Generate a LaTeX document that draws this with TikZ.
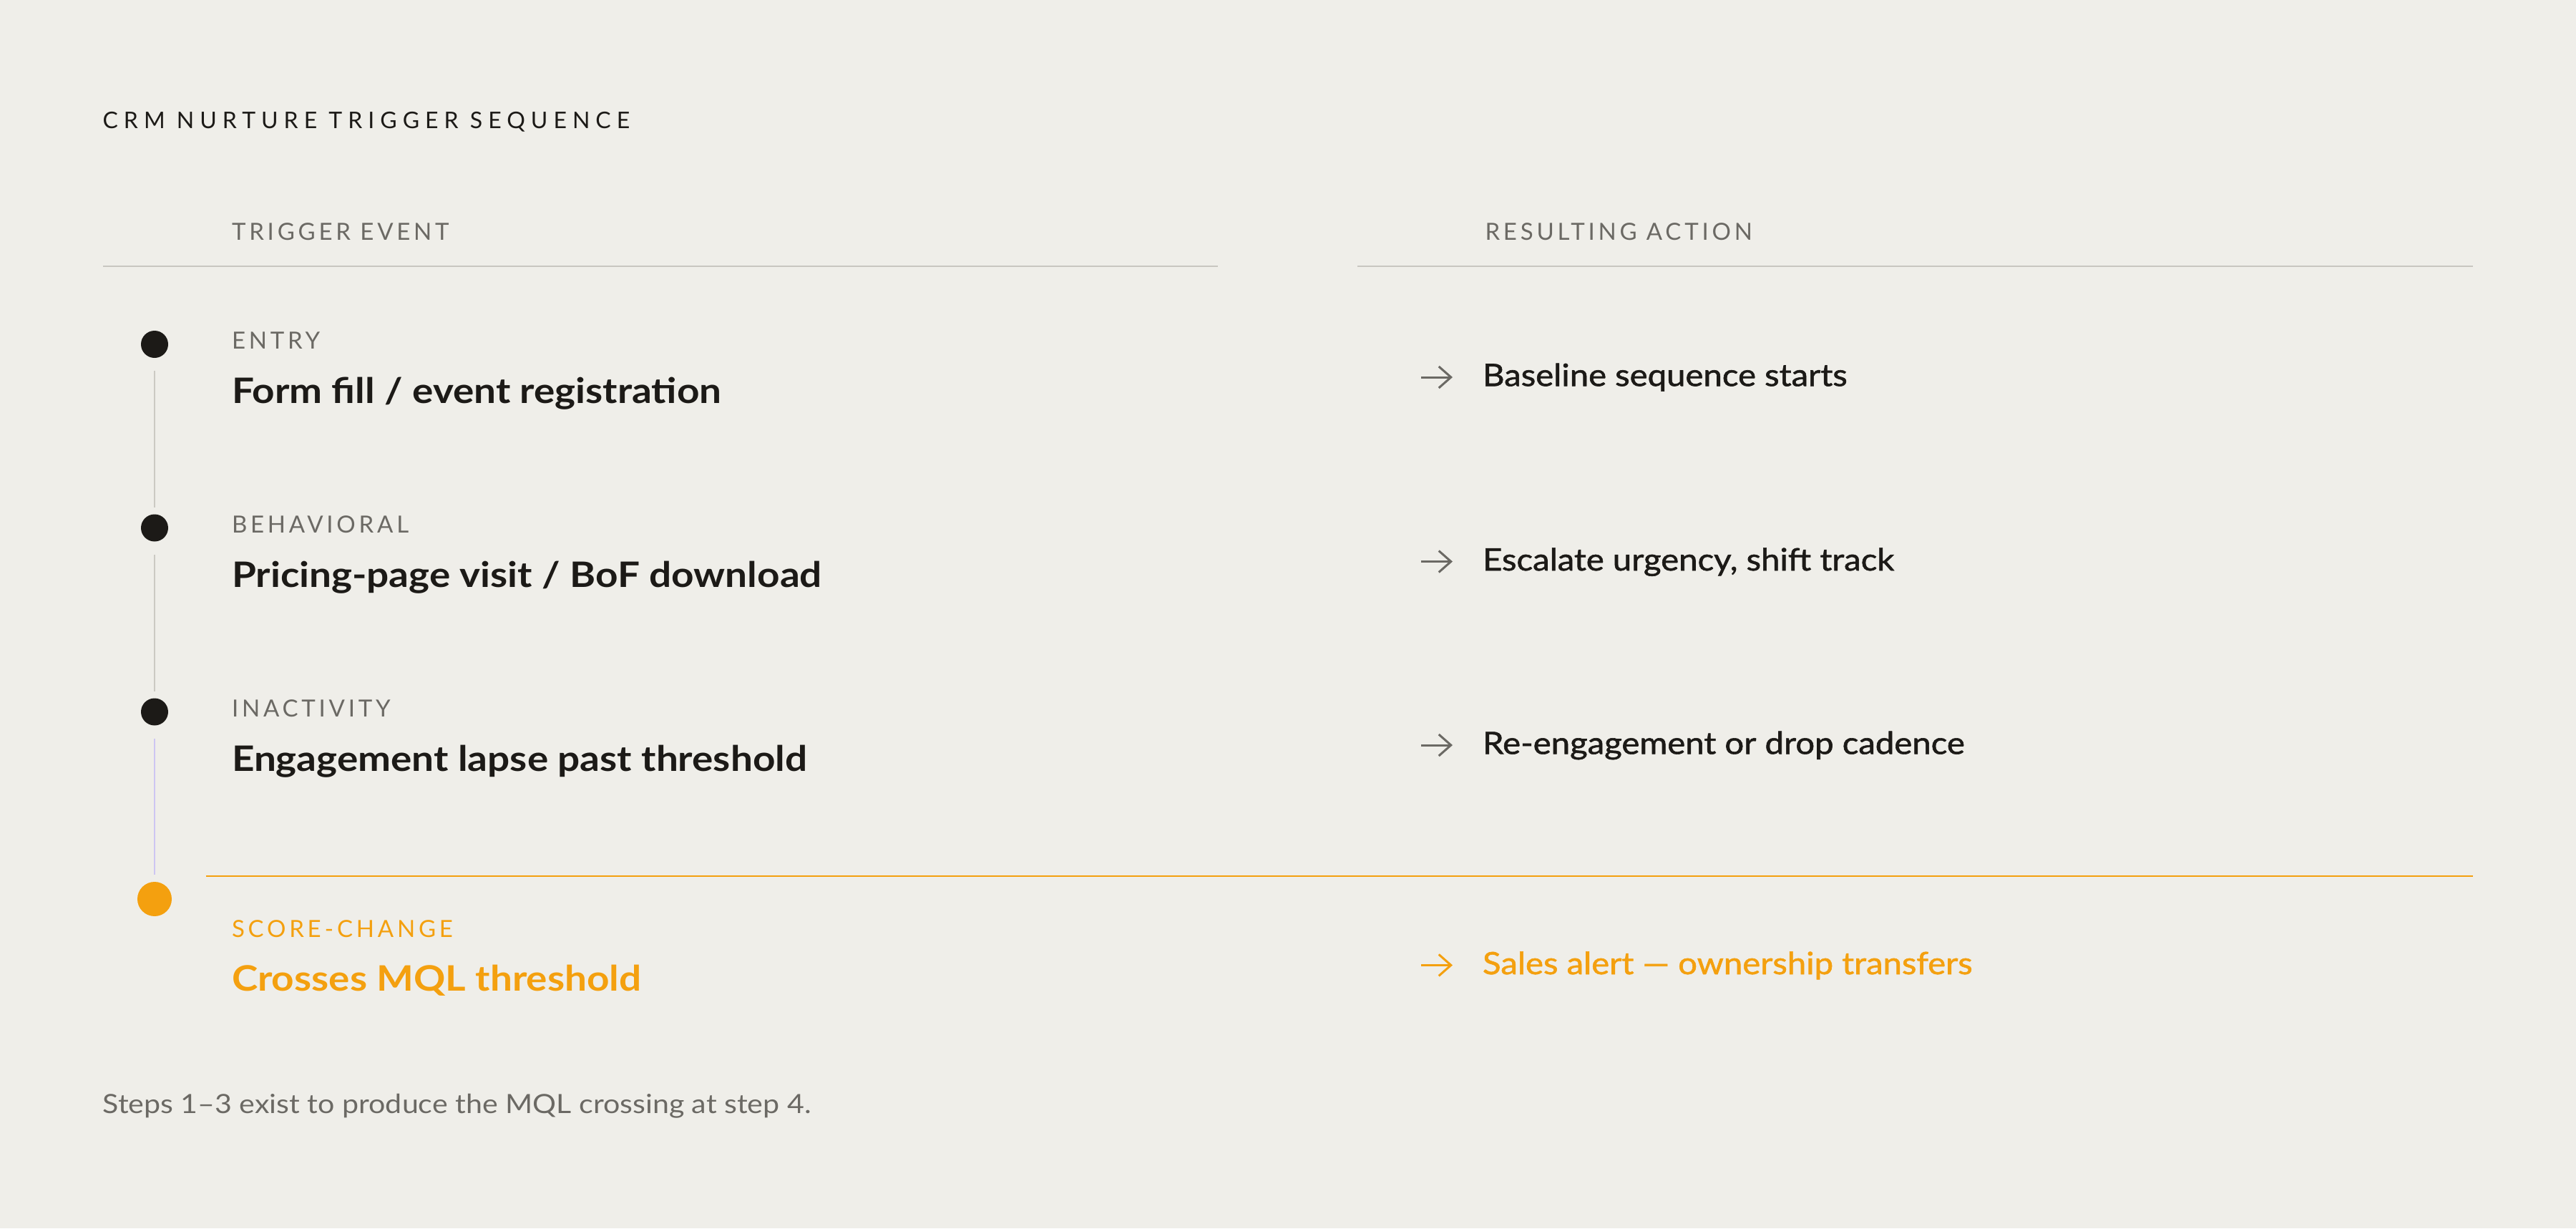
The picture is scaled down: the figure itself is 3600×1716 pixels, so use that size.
\documentclass[tikz,border=0pt]{standalone}
\usepackage{fontspec}
\setmainfont{Lato}
\newfontfamily\capsf[LetterSpace=14.5]{Lato}
\newfontfamily\titlef[LetterSpace=25]{Lato}
\newfontfamily\medf[FakeBold=1.4, FakeStretch=1.1]{Lato}
\newfontfamily\boldf[FakeStretch=1.12]{Lato Bold}
\newfontfamily\footf[FakeStretch=1.112]{Lato}
\usetikzlibrary{arrows.meta}
\definecolor{bg}{HTML}{EFEEE9}
\definecolor{ink}{HTML}{1C1A17}
\definecolor{labgray}{HTML}{6B6964}
\definecolor{rulegray}{HTML}{C8C6C0}
\definecolor{railgray}{HTML}{CBC9C3}
\definecolor{lav}{HTML}{CDC6F2}
\definecolor{accent}{HTML}{F4A00F}
\tikzset{
  txt/.style={inner sep=0pt, outer sep=0pt, anchor=base west},
  titlel/.style={txt, font=\titlef\fontsize{32}{38}\selectfont, text=ink},
  capl/.style={txt, font=\capsf\fontsize{33}{40}\selectfont, text=labgray},
  mainl/.style={txt, font=\boldf\fontsize{49}{58}\selectfont, text=ink},
  actl/.style={txt, font=\medf\fontsize{43}{50}\selectfont, text=ink},
  footl/.style={txt, font=\footf\fontsize{37}{44}\selectfont, text=labgray},
  stepdot/.style={circle, fill=ink, minimum size=38pt, inner sep=0pt, outer sep=0pt},
  hotdot/.style={circle, fill=accent, minimum size=48pt, inner sep=0pt, outer sep=0pt},
  rail/.style={line width=2pt, draw=railgray, shorten <=18pt, shorten >=10pt},
  hdrrule/.style={line width=2.5pt, draw=rulegray},
  actarrow/.style={line width=3pt, draw=labgray, -{Straight Barb[length=17pt,width=30pt]}},
}
\begin{document}
\begin{tikzpicture}[x=1pt,y=-1pt]
\fill[bg] (0,0) rectangle (3600,1716);
\useasboundingbox (0,0) rectangle (3600,1716);

% title and headers
\node[titlel] (title) at (143.6,179) {CRM NURTURE TRIGGER SEQUENCE};
\node[capl] (hTrig) at (324,335) {TRIGGER EVENT};
\node[capl] (hRes) at (2075.5,335.5) {RESULTING ACTION};
\coordinate (hl1) at (143.6,372);
\coordinate (hl2) at (1702,372);
\coordinate (hr1) at (1897,372);
\coordinate (hr2) at (3456,372);
\draw[hdrrule] (hl1) -- (hl2);
\draw[hdrrule] (hr1) -- (hr2);

% dots
\node[stepdot] (d1) at (216,481) {};
\node[stepdot] (d2) at (216,737.5) {};
\node[stepdot] (d3) at (216,994.5) {};
\node[hotdot] (d4) at (216,1256) {};
\draw[rail] (d1) -- (d2);
\draw[rail] (d2) -- (d3);
\draw[rail, draw=lav] (d3) -- (d4);

% accent rule
\coordinate (or1) at (288,1224);
\coordinate (or2) at (3456,1224);
\draw[line width=2.7pt, draw=accent] (or1) -- (or2);

% row 1
\node[capl] (l1) at (324,487) {ENTRY};
\node[mainl] (m1) at (324,563) {Form fill / event registration};
\coordinate (a1s) at (1986,527);
\coordinate (a1e) at (2030,527);
\draw[actarrow] (a1s) -- (a1e);
\node[actl] (r1) at (2072,539.3) {Baseline sequence starts};

% row 2
\node[capl] (l2) at (324,744) {BEHAVIORAL};
\node[mainl] (m2) at (324,820.5) {Pricing-page visit / BoF download};
\coordinate (a2s) at (1986,784.5);
\coordinate (a2e) at (2030,784.5);
\draw[actarrow] (a2s) -- (a2e);
\node[actl] (r2) at (2072,797) {Escalate urgency, shift track};

% row 3
\node[capl] (l3) at (324,1001) {INACTIVITY};
\node[mainl] (m3) at (324,1077) {Engagement lapse past threshold};
\coordinate (a3s) at (1986,1041);
\coordinate (a3e) at (2030,1041);
\draw[actarrow] (a3s) -- (a3e);
\node[actl] (r3) at (2072,1053.4) {Re-engagement or drop cadence};

% row 4
\node[capl, text=accent] (l4) at (324,1309) {SCORE\kern5pt-\kern5pt CHANGE};
\node[mainl, text=accent] (m4) at (324,1384) {Crosses MQL threshold};
\coordinate (a4s) at (1986,1348.4);
\coordinate (a4e) at (2030,1348.4);
\draw[actarrow, draw=accent] (a4s) -- (a4e);
\node[actl, text=accent] (r4) at (2072,1361) {Sales alert — ownership transfers};

% footer
\node[footl] (foot) at (143.6,1555) {Steps 1–3 exist to produce the MQL crossing at step 4.};
\end{tikzpicture}
\end{document}
